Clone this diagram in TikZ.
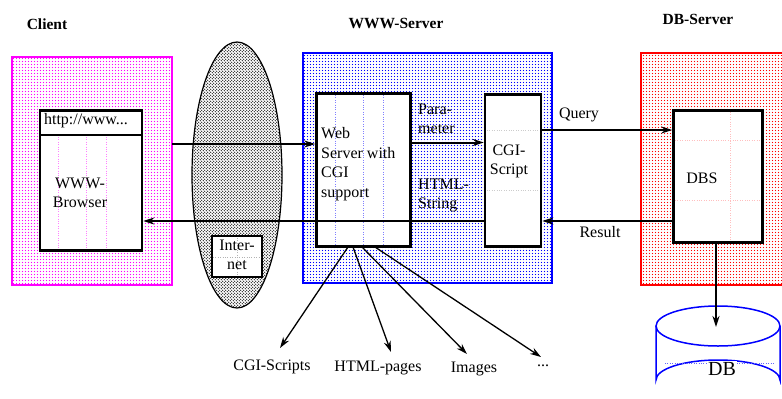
\documentclass[tikz,border=0pt]{standalone}
\usepackage{fontspec}
\setmainfont{Liberation Serif}
\usetikzlibrary{patterns,arrows.meta}
\definecolor{zmag}{RGB}{255,0,255}
\definecolor{zblue}{RGB}{0,0,255}
\definecolor{zred}{RGB}{255,0,0}
\pgfdeclarepatternformonly{zonedots}{\pgfqpoint{-1pt}{-1pt}}{\pgfqpoint{4pt}{4pt}}{\pgfqpoint{3pt}{3pt}}{%
  \pgfpathcircle{\pgfqpoint{1.5pt}{1.5pt}}{0.6pt}\pgfusepath{fill}}
\pgfdeclarepatternformonly{netdots}{\pgfqpoint{-1pt}{-1pt}}{\pgfqpoint{4pt}{4pt}}{\pgfqpoint{3pt}{3pt}}{%
  \pgfpathcircle{\pgfqpoint{0.75pt}{0.75pt}}{0.6pt}\pgfpathcircle{\pgfqpoint{2.25pt}{2.25pt}}{0.6pt}\pgfusepath{fill}}
\begin{document}
\begin{tikzpicture}[x=1pt,y=-1pt,
  every node/.style={font=\fontsize{16}{19.5}\selectfont, inner sep=0pt},
  title/.style={font=\fontsize{15.5}{18}\selectfont\bfseries},
  zone/.style={line width=2.5pt},
  box/.style={draw=black, line width=2.5pt, fill=white},
  link/.style={line width=2pt, -{Stealth[length=11pt,width=7pt]}},
  thin link/.style={line width=1.3pt, -{Stealth[length=11pt,width=7pt]}},
  grid/.style={dotted, line width=0.4pt}
]
\useasboundingbox (0,0) rectangle (782,399);

% titles
\node[title] (tclient) at (47,24) {Client};
\node[title] (tserver) at (396,23) {WWW-Server};
\node[title] (tdb) at (698,19) {DB-Server};

% zones
\path[pattern=zonedots, pattern color=zmag] (12,57) rectangle (172,285);
\draw[zone, draw=zmag] (12,57) rectangle (172,285);
\path[pattern=zonedots, pattern color=zblue] (303,53) rectangle (552,283);
\draw[zone, draw=zblue] (303,53) rectangle (552,283);
\path[pattern=zonedots, pattern color=zred] (641,53) rectangle (800,285);
\draw[zone, draw=zred] (641,53) rectangle (800,285);

% internet cloud
\path[pattern=netdots, pattern color=black] (237,175) ellipse [x radius=45, y radius=133];
\draw[line width=1.2pt] (237,175) ellipse [x radius=45, y radius=133];

% browser
\node[box, minimum width=102pt, minimum height=140pt] (browser) at (91,180.5) {};
\draw[grid, zmag!50] (58,137) -- (58,249) (86,137) -- (86,249) (106,137) -- (106,249);
\draw[line width=2pt] (40,135) -- (142,135);
\node (url) at (86,121) {http://www...};
\node[align=center] (browsertext) at (80,193) {WWW-\\Browser};

% internet box
\node[box, minimum width=50pt, minimum height=41pt] (inet) at (237,256.5) {};
\draw[grid, black!30] (237,238) -- (237,276) (213,257) -- (261,257);
\node[align=center] (inettext) at (237,255) {Inter-\\net};

% web server
\node[box, minimum width=94pt, minimum height=153pt] (web) at (363.5,170) {};
\draw[grid, zblue!50] (335,95) -- (335,245) (363,95) -- (363,245) (383,95) -- (383,245);
\node[align=left, anchor=west] (webtext) at (321,164) {Web\\Server with\\CGI\\support};

% CGI script
\node[box, minimum width=56pt, minimum height=152pt] (cgi) at (513,170.5) {};
\draw[grid, black!20] (487,190) -- (539,190) (487,130) -- (539,130);
\node[align=center] (cgitext) at (509,161.5) {CGI-\\Script};

% DBS
\node[box, minimum width=89pt, minimum height=132pt] (dbs) at (718,176.5) {};
\draw[grid, zred!25] (730,112) -- (730,241) (675,140) -- (761,140) (675,200) -- (761,200);
\node (dbstext) at (702,178) {DBS};

% DB cylinder
\draw[line width=1.5pt, zblue, fill=white] (656,326) -- (656,380) arc[start angle=180, end angle=360, x radius=62, y radius=20] -- (780,326);
\draw[line width=1.5pt, zblue, fill=white] (718,326) ellipse [x radius=62, y radius=20];
\draw[grid, zblue!60] (665,363) -- (775,363);
\node[font=\fontsize{20}{22}\selectfont, fill=white, inner sep=1pt] (dbtext) at (722,369) {DB};

% connectors
\coordinate (a1) at (172,144);
\draw[link] (a1) -- (web.west |- a1);
\draw[link] (cgi.west |- 0,221) -- (browser.east |- 0,221);
\draw[link] (web.east |- 0,142.5) -- (cgi.west |- 0,142.5);
\draw[link] (cgi.east |- 0,130) -- (dbs.west |- 0,130);
\draw[link] (dbs.west |- 0,221) -- (cgi.east |- 0,221);
\draw[link] (dbs.south -| 716,0) -- (716,327);

% labels on links
\node[align=left, anchor=west] (param) at (418,119) {Para-\\meter};
\node[align=left, anchor=west] (html) at (418,195.5) {HTML-\\String};
\node (query) at (579,115) {Query};
\node (result) at (600,232) {Result};

% outputs
\node (o1) at (272,367) {CGI-Scripts};
\node (o2) at (378,368) {HTML-pages};
\node (o3) at (474,369) {Images};
\node (o4) at (543,366) {...};
\coordinate (s1) at (348,247);
\coordinate (s2) at (353,247);
\coordinate (s3) at (362,247);
\coordinate (s4) at (375,247);
\draw[thin link] (s1) -- (280,348);
\draw[thin link] (s2) -- (391,352);
\draw[thin link] (s3) -- (467,354);
\draw[thin link] (s4) -- (541,357);
\end{tikzpicture}
\end{document}
